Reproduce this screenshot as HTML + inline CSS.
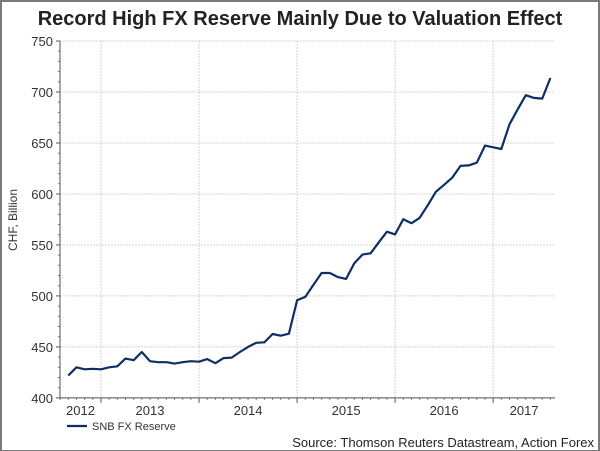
<!DOCTYPE html>
<html><head><meta charset="utf-8"><style>
body{margin:0;background:#fff;}
#wrap{position:relative;width:600px;height:451px;box-sizing:border-box;border:2px solid #7a7a7a;border-bottom:1px solid #7a7a7a;overflow:hidden;font-family:"Liberation Sans",sans-serif;}
</style></head><body>
<div id="wrap">
<svg id="chart" width="600" height="451" style="position:absolute;left:-2px;top:-2px"></svg>
</div>
<script>
const yTicks=[400,450,500,550,600,650,700,750];
const years=["2012","2013","2014","2015","2016","2017"];
const startMonth=8; // Sep 2012 (0-based month index within 2012)
const reserve=[422,430,428,428.5,428,430,431,438.5,437,445,436,435,435,433.6,435,436,435.5,438,434,439,439.5,445,450,454,454.5,462.7,461,463,495.8,499,510.8,522.5,522.5,518.5,516.7,532,540.5,541.8,552.6,563,560.3,575.2,571.3,576.5,589,602.3,609,616,627.5,628,630.7,647.4,645.8,644.1,668.3,683,696.8,694.2,693.5,713.7];
const NS="http://www.w3.org/2000/svg";
const svg=document.getElementById('chart');
const X0=60,X1=555,Y0=41;
const yS=v=>Y0+(750-v)*1.0197;
const mX=m=>101+(m-12)*8.17; // m = months since Jan 2012
function el(t,a,p){const e=document.createElementNS(NS,t);for(const k in a)e.setAttribute(k,a[k]);(p||svg).appendChild(e);return e;}
let t=el('text',{x:300,y:25,'text-anchor':'middle','font-size':20,'font-weight':'bold',fill:'#222'});
t.textContent='Record High FX Reserve Mainly Due to Valuation Effect';


yTicks.forEach(v=>{
 const y=yS(v);
 const g=el('line',{x1:X0,x2:X1,y1:y,y2:y,stroke:'#d4d4d4','stroke-dasharray':'2,1'});
 
 
 el('line',{x1:X0-4,x2:X0,y1:y,y2:y,stroke:'#555'});
 const l=el('text',{x:X0-7,y:y+5,'text-anchor':'end','font-size':13,fill:'#333'});
 l.textContent=v;
 
 
 if(v<750)for(let k=1;k<5;k++){const yy=y-k*10.2;el('line',{x1:X0-2,x2:X0,y1:yy,y2:yy,stroke:'#777'});}
});
years.forEach((yr,i)=>{
 const xs=mX(i*12);
 if(i>0){const g=el('line',{x1:xs,x2:xs,y1:Y0,y2:yS(400),stroke:'#d4d4d4','stroke-dasharray':'2,1'});
  
  
  el('line',{x1:xs,x2:xs,y1:yS(400),y2:yS(400)+5,stroke:'#555'});}
 for(let m=1;m<12;m++){const xm=mX(i*12+m);if(xm>X0&&xm<X1)el('line',{x1:xm,x2:xm,y1:yS(400),y2:yS(400)+2,stroke:'#777'});}
 const a=Math.max(X0,xs),b=Math.min(X1,mX(i*12+12));
 const l=el('text',{x:(a+b)/2,y:yS(400)+17,'text-anchor':'middle','font-size':13,fill:'#333'});
 l.textContent=yr;
 
 
});
el('line',{x1:X0,x2:X0,y1:Y0,y2:yS(400),stroke:'#555'});
el('line',{x1:X0,x2:X1,y1:yS(400),y2:yS(400),stroke:'#555'});
const yt=el('text',{transform:'translate(17,220) rotate(-90)','text-anchor':'middle','font-size':12,fill:'#333'});
yt.textContent='CHF, Billion';


const pts=reserve.map((v,i)=>mX(startMonth+i).toFixed(1)+','+yS(v).toFixed(1)).join(' ');
const pl=el('polyline',{points:pts,fill:'none',stroke:'#0f2f63','stroke-width':2.2,'stroke-linejoin':'round'});


const lg=el('line',{x1:67,x2:87,y1:426,y2:426,stroke:'#0f2f63','stroke-width':2.2});


const lt=el('text',{x:92,y:430,'font-size':11,fill:'#333'});
lt.textContent='SNB FX Reserve';


const st=el('text',{x:594,y:447,'text-anchor':'end','font-size':13,fill:'#222'});
st.textContent='Source: Thomson Reuters Datastream, Action Forex';


</script>
</body></html>
